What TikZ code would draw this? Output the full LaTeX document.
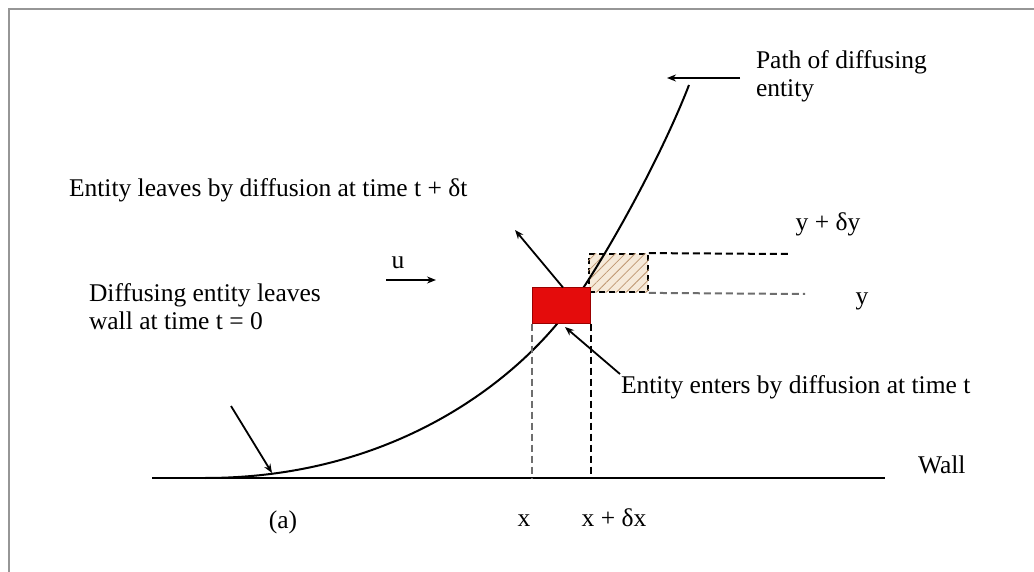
\documentclass[tikz,border=0pt]{standalone}
\usepackage{fontspec}
\setmainfont{Liberation Serif}
\usetikzlibrary{arrows.meta, calc, patterns, patterns.meta, positioning}

\definecolor{cellred}{RGB}{228,12,12}
\definecolor{hatchtan}{RGB}{246,234,218}
\definecolor{hatchline}{RGB}{190,150,112}
\definecolor{framegray}{RGB}{150,150,150}
\definecolor{guidegray}{RGB}{110,110,110}

\begin{document}
\begin{tikzpicture}[x=1pt, y=-1pt, line width=2pt,
    lbl/.style={inner sep=0pt, font=\fontsize{25.5}{28}\selectfont},
    redcell/.style={fill=cellred, draw=red!60!black, line width=1pt, inner sep=0pt,
      minimum width=58pt, minimum height=35pt},
    hatchcell/.style={fill=hatchtan, draw=black, dash pattern=on 6pt off 4pt,
      line width=1.8pt, inner sep=0pt, minimum width=59pt, minimum height=38pt},
    guide/.style={dash pattern=on 7pt off 4pt, line width=2pt},
    pointer/.style={-{Stealth[length=9pt, width=7pt]}, line width=1.8pt}]
    \useasboundingbox (0,0) rectangle (1034,572);
    \draw[framegray, line width=2.5pt] (8,9) -- (1034,9);
    \draw[framegray, line width=2.5pt] (9,9) -- (9,572);

    % wall
    \coordinate (wallL) at (152,478);
    \coordinate (wallR) at (885,478);
    \draw (wallL) -- (wallR);

    % the cell the entity moves into, then its path, then the cell it leaves
    \node[hatchcell] (cellnext) at (618.5,273) {};
    \path[pattern={Lines[angle=45, distance=7pt, line width=0.8pt]}, pattern color=hatchline]
        (cellnext.south west) rectangle (cellnext.north east);
    \draw (205,478) .. controls (390,478) and (510,385) .. (565,314)
        .. controls (600,268) and (660,160) .. (689,85);
    \node[redcell] (cell) at (561,305.5) {};

    % guide lines
    \draw[guide] (cellnext.north east) -- (788,254);
    \draw[guide, guidegray] (cellnext.south east) -- (805,294);
    \draw[guide, guidegray] (cell.south west) -- (cell.south west |- wallL);
    \draw[guide] (cell.south east) -- ([yshift=4pt]cell.south east |- wallL);

    % labels
    \node[lbl, anchor=base west] (leaves) at (68,197) {Entity leaves by diffusion at time t + δt};
    \node[lbl, anchor=base west, align=left] (pathlbl) at (755,97) {Path of diffusing\\entity};
    \node[lbl, anchor=base west, align=left] (startlbl) at (88,329) {Diffusing entity leaves\\wall at time t = 0};
    \node[lbl, anchor=base west] (enters) at (620,393) {Entity enters by diffusion at time t};
    \node[lbl, anchor=base] (ulbl) at (398,269) {u};
    \node[lbl, anchor=base] (ylbl) at (828,231) {y + δy};
    \node[lbl, anchor=base] (y0lbl) at (862,305) {y};
    \node[lbl, anchor=base west] (walllbl) at (917,473) {Wall};
    \node[lbl, anchor=base] (xlbl) at (524,526) {x};
    \node[lbl, anchor=base] (dxlbl) at (614,526) {x + δx};
    \node[lbl, anchor=base] (alabel) at (283,528) {(a)};

    % pointers
    \coordinate (pathtail) at (740,78);
    \coordinate (pathtip) at (667,78);
    \coordinate (leavestip) at (515,230);
    \coordinate (enterstip) at (565,327);
    \coordinate (walltail) at (231,406);
    \coordinate (walltip) at (272,473);
    \coordinate (utail) at (386,280);
    \coordinate (utip) at (436,280);
    \draw[pointer] (pathtail) -- (pathtip);
    \draw[pointer] ([xshift=2pt]cell.north) -- (leavestip);
    \draw[pointer] (enters.north west) -- (enterstip);
    \draw[pointer] (walltail) -- (walltip);
    \draw[pointer] (utail) -- (utip);
\end{tikzpicture}
\end{document}
